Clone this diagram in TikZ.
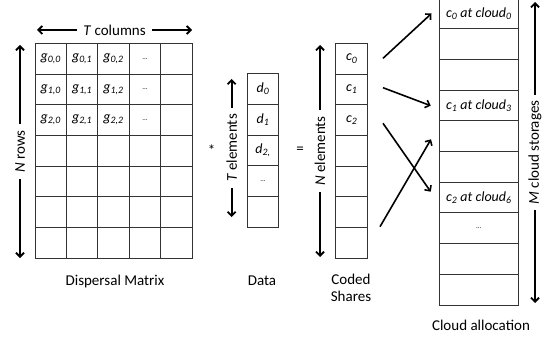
\documentclass[tikz,border=0pt]{standalone}
\usepackage{fontspec}
\setmainfont{Carlito}
\usetikzlibrary{arrows.meta,positioning,calc}
\newcommand{\ent}[2]{\textit{#1\textsubscript{#2}}}
\newcommand{\alloc}[2]{\textit{c\textsubscript{#1} at cloud\textsubscript{#2}}}
\newcommand{\more}{{\scriptsize...}}

\begin{document}
\begin{tikzpicture}[x=1pt, y=-1pt,
  font=\fontsize{15}{17}\selectfont,
  cell/.style ={draw=black!80, line width=0.9pt, inner sep=0pt,
                minimum width=31.4pt, minimum height=30.7pt,
                font=\fontsize{14}{16}\selectfont},
  dim/.style  ={{Straight Barb[length=4pt,width=8pt]}-{Straight Barb[length=4pt,width=8pt]},
                line width=1.8pt},
  fl/.style   ={-{Straight Barb[length=4pt,width=8pt]}, line width=1.6pt},
  lab/.style  ={fill=white, inner sep=6pt}]

\useasboundingbox (0,0) rectangle (545,339);

% dispersal matrix
\foreach \r in {0,...,6}
  \foreach \c in {0,...,4} {
    \def\txt{}
    \ifnum\r<3
      \ifnum\c<3 \def\txt{\ent{g}{\r,\c}}\fi
      \ifnum\c=3 \def\txt{\more}\fi
    \fi
    \node[cell] (g-\r-\c) at ({35+31.4*(\c+0.5)}, {43.3+30.7*(\r+0.5)}) {\txt};
  }

% data vector
\foreach \t [count=\i from 0] in {\ent{d}{0},\ent{d}{1},\ent{d}{2,},\more,{}}
  \node[cell] (d-\i) at (263, {73.6+30.7*(\i+0.5)}) {\t};

% coded shares
\foreach \t [count=\i from 0] in {\ent{c}{0},\ent{c}{1},\ent{c}{2},{},{},{},{}}
  \node[cell, minimum width=32pt] (c-\i) at (351.7, {43.3+30.7*(\i+0.5)}) {\t};

% cloud allocation
\foreach \t [count=\i from 0] in {\alloc{0}{0},{},{},\alloc{1}{3},{},{},\alloc{2}{6},\more,{},{}}
  \node[cell, minimum width=79pt] (m-\i) at (478.8, {-2+30.7*(\i+0.5)}) {\t};

% dimension arrows
\coordinate (tc-a) at (37,30);   \coordinate (tc-b) at (192,30);
\coordinate (nr-a) at (20,258);  \coordinate (nr-b) at (20,45);
\coordinate (te-a) at (231.7,217); \coordinate (te-b) at (231.7,79);
\coordinate (ne-a) at (320,257); \coordinate (ne-b) at (320,45);
\coordinate (mc-a) at (535,303); \coordinate (mc-b) at (535,2);
\draw[dim] (tc-a) -- node[lab] (tcol) {\textit{T} columns} (tc-b);
\draw[dim] (nr-a) -- node[lab, rotate=90] (nrow) {\textit{N} rows} (nr-b);
\draw[dim] (te-a) -- node[lab, rotate=90] (tel) {\textit{T} elements} (te-b);
\draw[dim] (ne-a) -- node[lab, rotate=90] (nel) {\textit{N} elements} (ne-b);
\draw[dim] (mc-a) -- node[lab, rotate=90] (mcl) {\textit{M} cloud storages} (mc-b);

\node (times) at (211.7,150) {*};
\node (eq) at (300,150) {=};

% captions
\node (cap-g) at (115,281) {Dispersal Matrix};
\node (cap-d) at (262,281) {Data};
\node[align=center] (cap-c) at (351,288) {Coded\\Shares};
\node (cap-m) at (481,325) {Cloud allocation};

% share placement
\coordinate (s0) at (383,58.3);  \coordinate (t0) at (431.5,13.5);
\coordinate (s1) at (383,87.7);  \coordinate (t1) at (430.7,105.7);
\coordinate (s2) at (383,123.3); \coordinate (t2) at (430.7,191.7);
\coordinate (s3) at (380,226.7); \coordinate (t3) at (431,139.3);
\foreach \i in {0,...,3}
  \draw[fl] (s\i) -- (t\i);
\end{tikzpicture}
\end{document}
